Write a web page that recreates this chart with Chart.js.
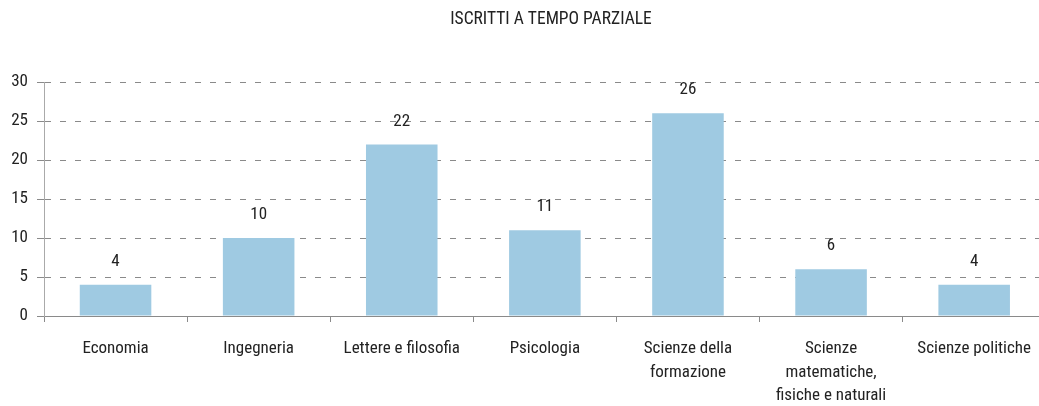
<!DOCTYPE html>
<html>
<head>
<meta charset="utf-8">
<script src="https://cdn.jsdelivr.net/npm/chart.js@4"></script>
<style>
  html, body { margin: 0; padding: 0; background: #fff; overflow: hidden; }
  #wrap { position: relative; width: 1046px; height: 406px; }
</style>
</head>
<body>
<div id="wrap"><canvas id="c" width="1046" height="406"></canvas></div>
<script>
const categories = [
  "Economia",
  "Ingegneria",
  ["Lettere e filosofia"],
  "Psicologia",
  ["Scienze della", "formazione"],
  ["Scienze", "matematiche,", "fisiche e naturali"],
  "Scienze politiche"
];
const values = [4, 10, 22, 11, 26, 6, 4];
const yTicks = [0, 5, 10, 15, 20, 25, 30];
const title = "ISCRITTI A TEMPO PARZIALE";

const FONT = "'Roboto Condensed', 'Open Sans', sans-serif";
const TEXT = '#222';
const GRAY = '#8a8a8a';

const extras = {
  id: 'extras',
  afterDatasetsDraw(chart) {
    const ctx = chart.ctx;
    const meta = chart.getDatasetMeta(0);
    ctx.save();
    ctx.font = `17px ${FONT}`;
    ctx.fillStyle = TEXT;
    ctx.textAlign = 'center';
    ctx.textBaseline = 'middle';
    meta.data.forEach((bar, i) => {
      ctx.fillText(String(values[i]), bar.x, bar.y - 23);
    });
    ctx.font = `17.5px ${FONT}`;
    ctx.fillText(title, 551, 20);
    ctx.restore();
  }
};

new Chart(document.getElementById('c'), {
  type: 'bar',
  data: {
    labels: categories,
    datasets: [{
      data: values,
      backgroundColor: '#9fcae2',
      borderWidth: 0,
      categoryPercentage: 1,
      barPercentage: 0.5
    }]
  },
  options: {
    responsive: false,
    animation: false,
    events: [],
    layout: { padding: { left: 0, right: 0, top: 82, bottom: 0 } },
    plugins: {
      legend: { display: false },
      tooltip: { enabled: false },
      title: { display: false }
    },
    scales: {
      x: {
        offset: true,
        grid: {
          display: true,
          offset: true,
          drawOnChartArea: false,
          drawTicks: true,
          tickLength: 6,
          color: GRAY
        },
        border: { display: true, color: GRAY, width: 1 },
        ticks: {
          color: TEXT,
          font: { family: FONT, size: 17, lineHeight: '23.5px' },
          padding: 15,
          maxRotation: 0,
          autoSkip: false
        },
        afterFit(s) { s.height = 90; }
      },
      y: {
        min: 0,
        max: 30,
        afterBuildTicks(s) { s.ticks = yTicks.map(v => ({ value: v })); },
        grid: {
          color: GRAY,
          lineWidth: 1,
          drawTicks: true,
          tickLength: 7
        },
        border: { display: true, color: '#aaaaaa', width: 1, dash: [6, 9] },
        ticks: {
          color: TEXT,
          font: { family: FONT, size: 17 },
          padding: 9
        },
        afterFit(s) { s.width = 44; }
      }
    }
  },
  plugins: [extras]
});
</script>
</body>
</html>
